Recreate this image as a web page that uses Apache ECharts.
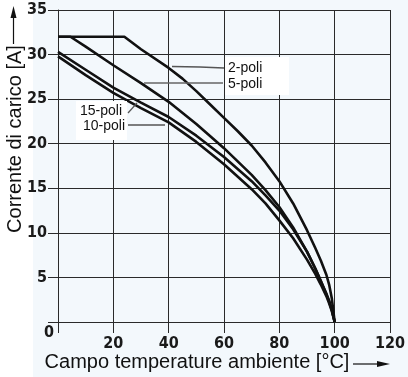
<!DOCTYPE html>
<html>
<head>
<meta charset="utf-8">
<script src="https://cdn.jsdelivr.net/npm/echarts@6/dist/echarts.min.js"></script>
<style>
  html, body { margin: 0; padding: 0; background: #fff; }
  #chart1 { width: 408px; height: 377px; }
</style>
</head>
<body>
<div id="chart1"></div>
<script>
// curves: [temperature °C, current A]
const poli2 = [[0, 32], [24, 32], [30, 30.6], [40, 28.5], [45, 27.3], [50, 25.9], [55, 24.4], [60, 22.9],
    [65, 21.4], [70, 19.8], [75, 17.9], [80, 15.8], [85, 13.3], [90, 10.3], [93, 8.3], [95, 6.9],
    [97, 5.3], [98, 4.2], [99, 2.6], [100, 0]];
const poli5 = [[0, 32], [4.5, 32], [10, 30.9], [20, 28.8], [30, 26.8], [40, 24.7], [50, 22.2],
    [60, 19.5], [70, 16.5], [75, 14.8], [80, 12.9], [85, 10.6], [90, 7.9], [93, 6.0], [95, 4.6],
    [97, 3.2], [98, 2.4], [99, 1.4], [100, 0]];
const poli15 = [[0, 30.3], [10, 28.3], [20, 26.3], [30, 24.6], [40, 23.0], [50, 20.9], [60, 18.5],
    [70, 15.8], [75, 14.2], [80, 12.5], [85, 10.4], [90, 7.9], [93, 6.0], [95, 4.6], [97, 3.1],
    [98, 2.3], [99, 1.3], [100, 0]];
const poli10 = [[0, 29.8], [10, 27.7], [20, 25.7], [30, 24.0], [40, 22.4], [50, 20.2], [60, 17.7],
    [70, 14.9], [75, 13.3], [80, 11.4], [85, 9.4], [90, 7.0], [93, 5.4], [95, 4.2], [97, 2.9],
    [98, 2.1], [99, 1.2], [100, 0]];
const curveNames = ['2-poli', '5-poli', '15-poli', '10-poli'];

const chart = echarts.init(document.getElementById('chart1'));
const tickFont = '"Liberation Sans Narrow", "Arial Narrow", "DejaVu Sans Condensed", sans-serif';
const gridColor = '#2a2a2a';

const option = {
    animation: false,
    backgroundColor: '#f3f8fc',
    grid: { left: 58, right: 14, top: 10, bottom: 55 },
    xAxis: {
        type: 'value',
        min: 0, max: 120, interval: 20,
        axisLine: { show: true, lineStyle: { color: gridColor, width: 1 } },
        axisTick: { show: true, length: 11, inside: false, interval: function (i) { return i === 0; },
            lineStyle: { color: gridColor } },
        splitLine: { show: true, lineStyle: { color: gridColor, width: 1 } },
        axisLabel: {
            margin: 14,
            fontFamily: tickFont, fontWeight: 'bold', fontSize: 16, color: '#1a1a1a',
            formatter: function (v) { return v === 0 ? '' : v; }
        }
    },
    yAxis: {
        type: 'value',
        min: 0, max: 35, interval: 5,
        axisLine: { show: true, lineStyle: { color: gridColor, width: 1 } },
        axisTick: { show: true, length: 10, lineStyle: { color: gridColor } },
        splitLine: { show: true, lineStyle: { color: gridColor, width: 1 } },
        axisLabel: {
            margin: 11,
            fontFamily: tickFont, fontWeight: 'bold', fontSize: 16, color: '#1a1a1a',
            formatter: function (v) { return v === 0 ? '' : v; }
        }
    },
    series: [poli2, poli5, poli15, poli10].map((d, i) => ({
        name: curveNames[i],
        type: 'line',
        data: d,
        symbol: 'none',
        smooth: false,
        lineStyle: { color: '#111', width: 2.6, join: 'round' }
    })),
    graphic: [
        { type: 'rect', silent: true, shape: { x: 0, y: 0, width: 33, height: 377 }, style: { fill: '#fff' } },
        // label boxes
        { type: 'rect', z: 50, shape: { x: 225, y: 57, width: 64, height: 38 }, style: { fill: '#fff' } },
        { type: 'rect', z: 50, shape: { x: 76, y: 101, width: 51, height: 39 }, style: { fill: '#fff' } },
        { type: 'text', z: 60, x: 228, y: 68, style: { text: curveNames[0], font: '14px "Liberation Sans", Arial, sans-serif', fill: '#111', textVerticalAlign: 'middle' } },
        { type: 'text', z: 60, x: 228, y: 84, style: { text: curveNames[1], font: '14px "Liberation Sans", Arial, sans-serif', fill: '#111', textVerticalAlign: 'middle' } },
        { type: 'text', z: 60, x: 80, y: 111, style: { text: curveNames[2], font: '14px "Liberation Sans", Arial, sans-serif', fill: '#111', textVerticalAlign: 'middle' } },
        { type: 'text', z: 60, x: 83, y: 126, style: { text: curveNames[3], font: '14px "Liberation Sans", Arial, sans-serif', fill: '#111', textVerticalAlign: 'middle' } },
        // leaders
        { type: 'polyline', z: 60, shape: { points: [[172, 66.5], [200, 67], [224, 68]] }, style: { stroke: '#555', lineWidth: 1.5, fill: null } },
        { type: 'line', z: 60, shape: { x1: 144, y1: 83, x2: 223, y2: 83 }, style: { stroke: '#666', lineWidth: 1.5 } },
        { type: 'line', z: 60, shape: { x1: 128, y1: 113, x2: 137, y2: 103 }, style: { stroke: '#555', lineWidth: 1.2 } },
        { type: 'line', z: 60, shape: { x1: 128, y1: 125, x2: 165, y2: 125 }, style: { stroke: '#555', lineWidth: 1.5 } },
        // origin label
        { type: 'text', x: 49, y: 333, style: { text: '0', font: 'bold 16px ' + tickFont, fill: '#1a1a1a', textAlign: 'center', textVerticalAlign: 'middle' } },
        // axis titles
        { type: 'text', x: 15, y: 139, rotation: Math.PI / 2, style: { text: 'Corrente di carico [A]', font: '20px "Liberation Sans", Arial, sans-serif', fill: '#111', textAlign: 'center', textVerticalAlign: 'middle' } },
        { type: 'line', shape: { x1: 13.5, y1: 44, x2: 13.5, y2: 14 }, style: { stroke: '#111', lineWidth: 1.2 } },
        { type: 'polygon', shape: { points: [[13.5, 6], [10.5, 18], [16.5, 18]] }, style: { fill: '#111' } },
        { type: 'text', x: 197, y: 362, style: { text: 'Campo temperature ambiente [°C]', font: '20px "Liberation Sans", Arial, sans-serif', fill: '#111', textAlign: 'center', textVerticalAlign: 'middle' } },
        { type: 'line', shape: { x1: 353, y1: 364, x2: 380, y2: 364 }, style: { stroke: '#111', lineWidth: 1.2 } },
        { type: 'polygon', shape: { points: [[390, 364], [377, 361], [377, 367]] }, style: { fill: '#111' } }
    ]
};

chart.setOption(option);
window.addEventListener('resize', function () { chart.resize(); });
</script>
</body>
</html>
